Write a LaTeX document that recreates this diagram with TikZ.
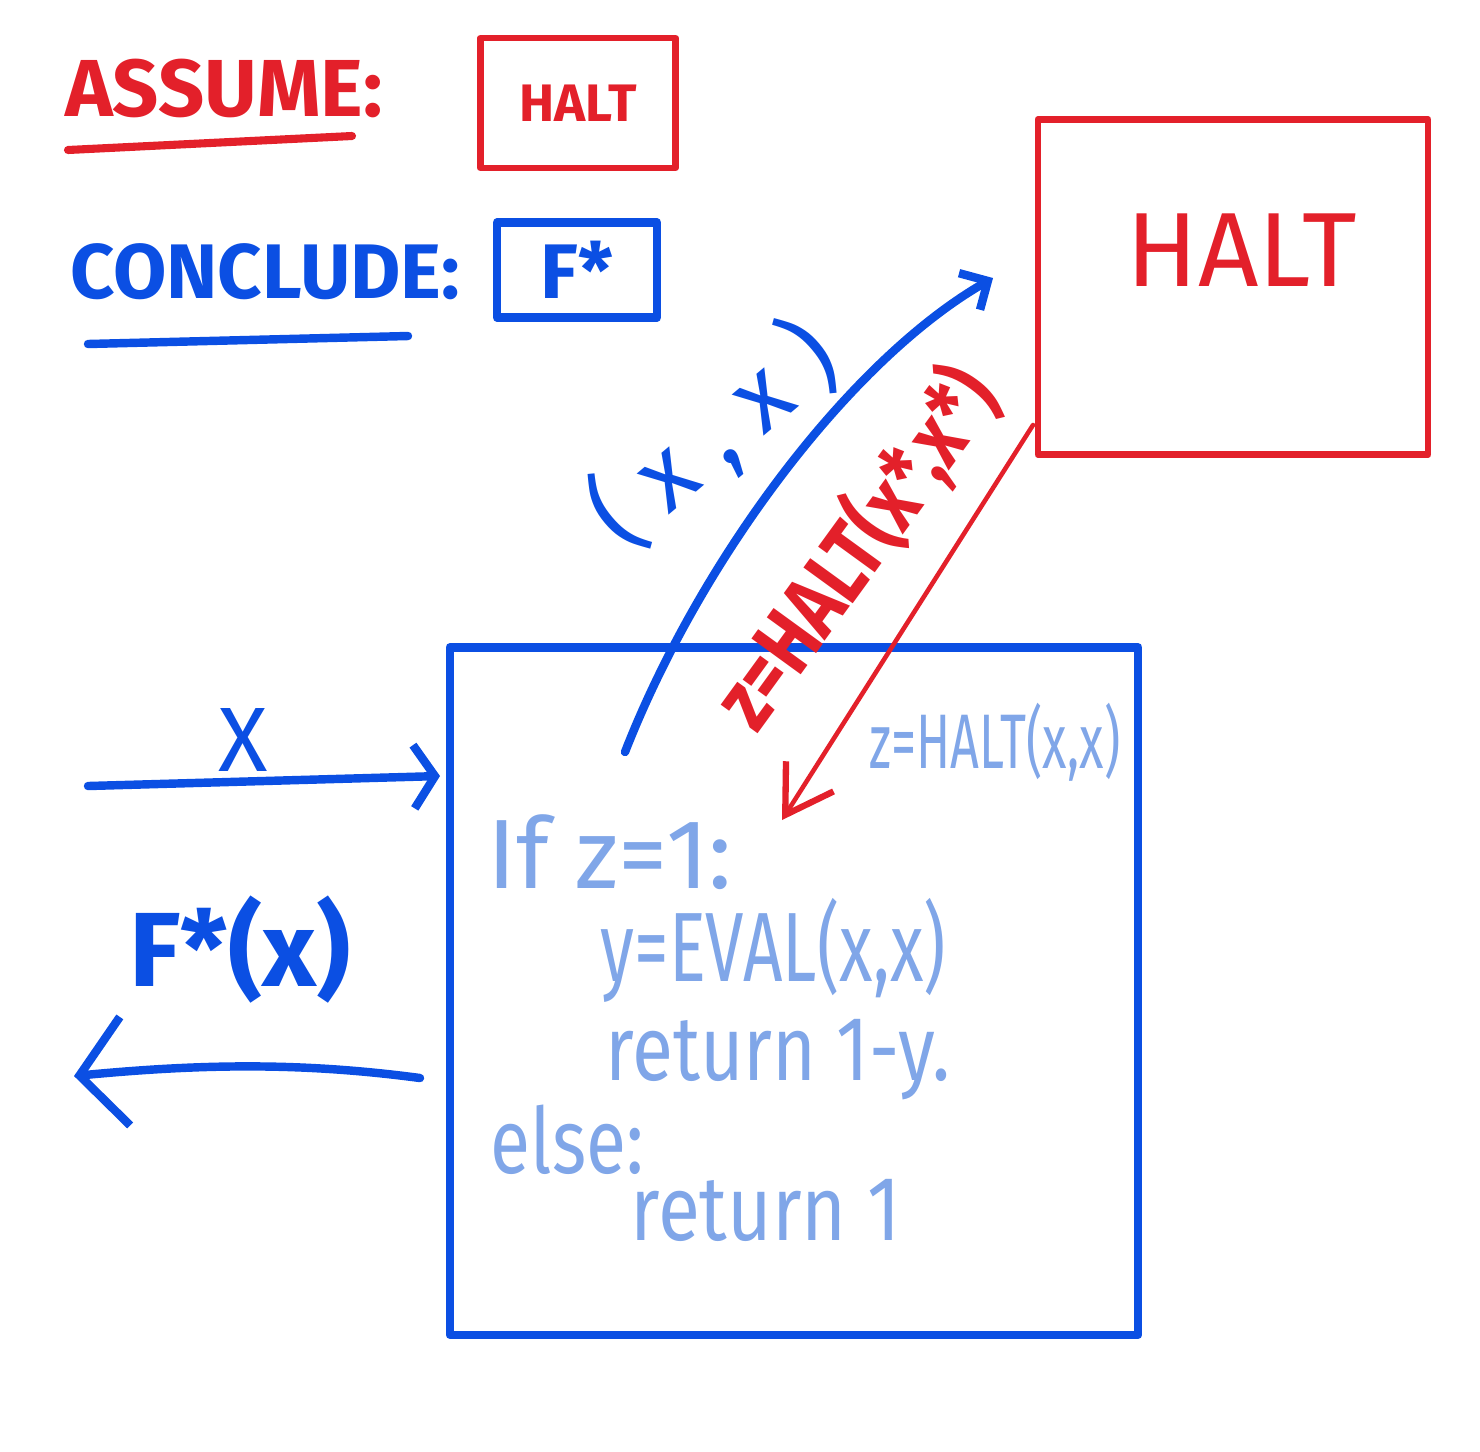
\documentclass[tikz,border=0pt]{standalone}
\usepackage{fontspec}
\setmainfont{Fira Sans}
\usetikzlibrary{arrows.meta}
\definecolor{mred}{HTML}{E3202A}
\definecolor{mblue}{HTML}{0B4FE3}
\definecolor{lblue}{HTML}{80A6E8}
\tikzset{
  redpen/.style={draw=mred, line width=1.8pt, line cap=round, line join=round},
  bluepen/.style={draw=mblue, line width=2.4pt, line cap=round, line join=round},
  redtxt/.style={text=mred, inner sep=0pt},
  bluetxt/.style={text=mblue, inner sep=0pt},
  codetxt/.style={text=lblue, inner sep=0pt, anchor=west},
}
\begin{document}
\begin{tikzpicture}[x=0.01cm,y=-0.01cm]
\useasboundingbox (0,0) rectangle (1480,1451);

% headings
\node[redtxt] (assume) at (224,88) {\fontsize{23}{27}\selectfont\bfseries ASSUME:};
\draw[redpen, line width=2.3pt] (68,150) -- (352,136);
\node[redpen, minimum width=1.95cm, minimum height=1.3cm, text=mred] (haltsmall) at (578,103) {\fontsize{15}{18}\selectfont\bfseries HALT};

\node[bluetxt] (conclude) at (265,272) {\fontsize{22}{26}\selectfont\bfseries CONCLUDE:};
\draw[bluepen] (88,344) -- (408,336);
\node[bluepen, minimum width=1.6cm, minimum height=0.95cm, text=mblue] (fbox) at (577,270) {\fontsize{22}{26}\selectfont\bfseries F*};

% big HALT box
\node[redpen, minimum width=3.9cm, minimum height=3.35cm] (halt) at (1233,287) {};
\node[redtxt] (haltlbl) at (1242,250) {\fontsize{30}{34}\selectfont HALT};

% main box F*
\node[bluepen, minimum width=6.88cm, minimum height=6.87cm] (fstar) at (794,991) {};

% code inside
\node[text=lblue, inner sep=0pt] (zeq) at (995,742) {\fontsize{22}{26}\selectfont\scalebox{0.65}[1]{z=HALT(x,x)}};
\node[codetxt] (c1) at (487,852) {\fontsize{28}{32}\selectfont If z=1:};
\node[codetxt] (c2) at (600,950) {\fontsize{28}{32}\selectfont\scalebox{0.7}[1]{y=EVAL(x,x)}};
\node[codetxt] (c3) at (605,1060) {\fontsize{26}{30}\selectfont\scalebox{0.82}[1]{return 1-y.}};
\node[codetxt] (c4) at (490,1140) {\fontsize{26}{30}\selectfont\scalebox{0.8}[1]{else:}};
\node[codetxt] (c5) at (630,1210) {\fontsize{26}{30}\selectfont\scalebox{0.84}[1]{return 1}};

% blue curve arrow to HALT
\coordinate (bstart) at (625,752);
\coordinate (bend) at (993,278);
\draw[bluepen, -{Straight Barb[length=6pt,width=12pt,line width=2.4pt]}] (bstart) .. controls (700,560) and (850,360) .. (bend);
\node[bluetxt, rotate=40] (xx) at (713,435) {\fontsize{28}{32}\selectfont ( x , x )};

% red arrow back
\coordinate (rstart) at (1033,425);
\coordinate (rend) at (782,820);
\draw[redpen, line width=1.3pt, -{Straight Barb[length=13pt,width=16pt,line width=1.8pt]}] (rstart) -- (rend);
\node[redtxt, rotate=54] (zlbl) at (856,548) {\fontsize{25}{29}\selectfont\bfseries\scalebox{0.8}[1]{z=HALT(x*,x*)}};

% input arrow
\coordinate (xin) at (88,786);
\coordinate (xend) at (440,776);
\draw[bluepen, -{Straight Barb[length=6pt,width=18pt,line width=2.4pt]}] (xin) -- (xend);
\node[bluetxt] (xlbl) at (243,740) {\fontsize{26}{30}\selectfont X};

% output arrow
\coordinate (outs) at (420,1078);
\coordinate (oute) at (74,1076);
\draw[bluepen, -{Straight Barb[length=13pt,width=31pt,line width=2.4pt]}] (outs) .. controls (300,1062) and (200,1064) .. (oute);
\node[bluetxt] (fx) at (240,950) {\fontsize{30}{34}\selectfont\bfseries F*(x)};
\end{tikzpicture}
\end{document}
